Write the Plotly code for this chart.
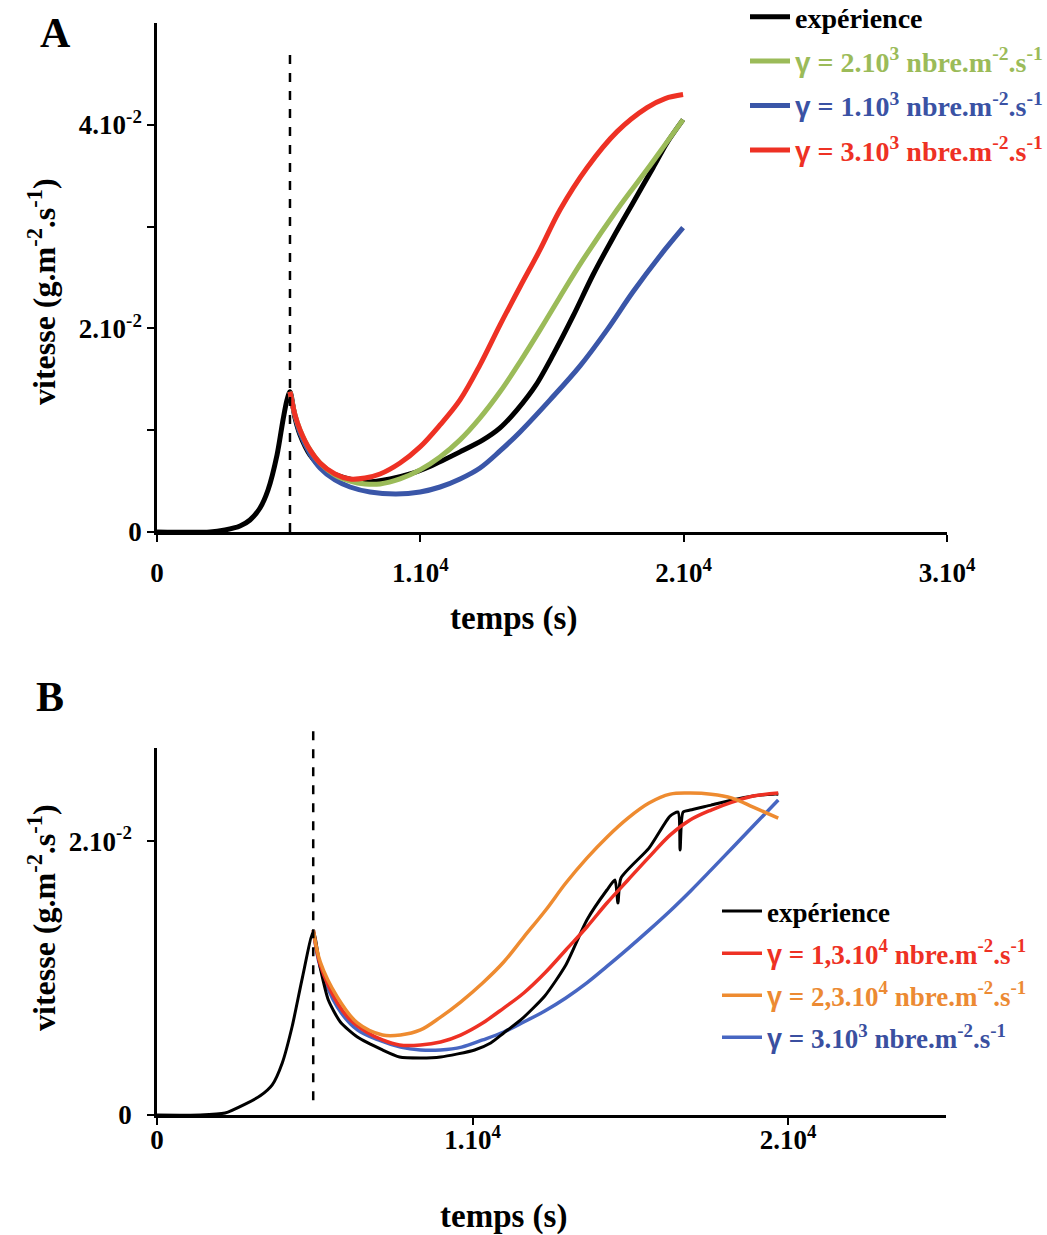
import plotly.graph_objects as go

W, H = 1047, 1235

# ---------------- Panel A data (vitesse in units of 1e-2 g.m-2.s-1) ----------------
A_exp_t = [0, 2013, 2583, 3152, 3532, 3912, 4216, 4558, 4785, 4937, 5051, 5241, 5431, 5811,
           6381, 7140, 7976, 8849, 9609, 10406, 11508, 12381, 13027, 13673, 14394, 15040,
           15799, 16559, 17319, 18078, 18838, 19370, 19977]
A_exp_v = [0, 0, 0.020, 0.059, 0.118, 0.236, 0.413, 0.757, 1.101, 1.298, 1.377, 1.121, 0.954,
           0.757, 0.610, 0.531, 0.492, 0.521, 0.570, 0.649, 0.787, 0.905, 1.023, 1.200, 1.445,
           1.740, 2.120, 2.527, 2.891, 3.235, 3.579, 3.825, 4.051]

A_g2_t = [5051, 5241, 5431, 5811, 6191, 6760, 7330, 7900, 8470, 9229, 9989, 10748, 11508,
          12267, 13027, 13787, 14546, 15306, 16179, 17471, 18610, 19294, 19977]
A_g2_v = [1.377, 1.150, 1.003, 0.806, 0.678, 0.560, 0.501, 0.472, 0.472, 0.521, 0.610, 0.737,
          0.905, 1.121, 1.377, 1.672, 1.986, 2.311, 2.675, 3.166, 3.560, 3.805, 4.051]

A_g1_t = [5051, 5241, 5431, 5811, 6191, 6760, 7330, 8090, 9077, 9989, 10748, 11508, 12267,
          13027, 13787, 14926, 16066, 17091, 18078, 19104, 19977]
A_g1_v = [1.377, 1.141, 0.973, 0.767, 0.629, 0.511, 0.442, 0.393, 0.374, 0.393, 0.442, 0.521,
          0.629, 0.796, 0.983, 1.298, 1.632, 1.986, 2.360, 2.714, 2.989]

A_g3_t = [5051, 5241, 5431, 5811, 6191, 6760, 7330, 7900, 8470, 9229, 9989, 10748, 11508,
          12267, 13027, 13787, 14546, 15306, 16331, 17471, 18610, 19294, 19977]
A_g3_v = [1.377, 1.150, 1.003, 0.806, 0.678, 0.570, 0.521, 0.531, 0.570, 0.678, 0.836, 1.052,
          1.298, 1.642, 2.035, 2.409, 2.773, 3.166, 3.579, 3.933, 4.169, 4.258, 4.297]

A_dash_t = 5050
A_dash_top = 4.77

A_xticks = [0, 10000, 20000, 30000]
A_xlabels = ["0", "1.10<sup>4</sup>", "2.10<sup>4</sup>", "3.10<sup>4</sup>"]
A_yticks = [0, 1, 2, 3, 4]
A_ylabels = ["0", "", "2.10<sup>-2</sup>", "", "4.10<sup>-2</sup>"]

# ---------------- Panel B data ----------------
B_exp_t = [0, 1365, 2159, 2794, 3270, 3651, 3969, 4286, 4604, 4953, 5175, 5429, 5810,
           6350, 7144, 7684, 8350, 8985, 10065, 10573, 10986, 11525, 12287, 12954, 13621,
           14256, 14510, 14605, 14700, 15589, 16256, 16510, 16574, 16669, 16891, 17558,
           18225, 18891, 19526, 19685]
B_exp_v = [0, 0, 0.015, 0.080, 0.140, 0.220, 0.380, 0.650, 1.000, 1.340, 1.073, 0.840,
           0.679, 0.569, 0.475, 0.423, 0.416, 0.423, 0.475, 0.526, 0.599, 0.694, 0.869, 1.095,
           1.424, 1.643, 1.716, 1.548, 1.730, 1.949, 2.183, 2.212, 1.935, 2.212, 2.227, 2.263,
           2.300, 2.329, 2.343, 2.343]

B_r_t = [4953, 5175, 5715, 6128, 6636, 7144, 7684, 8350, 8985, 9620, 10319, 10986, 11621,
         12319, 12954, 13621, 14256, 14923, 15589, 16256, 16891, 17558, 18225, 18891, 19685]
B_r_v = [1.351, 1.095, 0.818, 0.694, 0.606, 0.548, 0.511, 0.511, 0.533, 0.584, 0.672, 0.781,
         0.891, 1.044, 1.205, 1.373, 1.548, 1.716, 1.883, 2.044, 2.154, 2.227, 2.285, 2.329, 2.351]

B_o_t = [4953, 5175, 5715, 6350, 7144, 7715, 8350, 8985, 9620, 10319, 10986, 11621, 12319,
         12954, 13621, 14256, 14923, 15589, 16256, 16891, 17558, 18225, 18891, 19685]
B_o_v = [1.351, 1.117, 0.861, 0.672, 0.584, 0.584, 0.621, 0.715, 0.825, 0.964, 1.117, 1.299,
         1.497, 1.694, 1.876, 2.029, 2.168, 2.278, 2.343, 2.351, 2.343, 2.314, 2.248, 2.168]

B_b_t = [4953, 5175, 5715, 6350, 7017, 7715, 8350, 8985, 9652, 10319, 10986, 11621, 12287,
         12954, 13621, 14256, 14923, 15589, 16256, 16923, 17558, 18225, 18891, 19685]
B_b_v = [1.351, 1.080, 0.788, 0.621, 0.548, 0.496, 0.475, 0.475, 0.496, 0.548, 0.606, 0.679,
         0.760, 0.855, 0.965, 1.085, 1.215, 1.350, 1.490, 1.640, 1.790, 1.950, 2.110, 2.300]

B_dash_t = 4950

B_xticks = [0, 10000, 20000]
B_xlabels = ["0", "1.10<sup>4</sup>", "2.10<sup>4</sup>"]
B_yticks = [0, 2]
B_ylabels = ["0", "2.10<sup>-2</sup>"]

SERIF = "Liberation Serif"
GAM = "<span style='font-family:Liberation Sans'>γ</span>"


def lab(color, txt):
    return f"<span style='color:{color}'>{GAM} = {txt} nbre.m<sup>-2</sup>.s<sup>-1</sup></span>"


def spl(color, width, sm=1.0):
    return dict(color=color, width=width, shape="spline", smoothing=sm)


fig = go.Figure()

# Panel A traces (draw order: black, blue, green, red)
fig.add_trace(go.Scatter(x=A_exp_t, y=A_exp_v, mode="lines", name="expérience",
                         line=spl("#000000", 5, 0.8),
                         xaxis="x", yaxis="y", legend="legend", legendgroup="a0", legendrank=1))
fig.add_trace(go.Scatter(x=A_g1_t, y=A_g1_v, mode="lines", name=lab("#3A52A4", "1.10<sup>3</sup>"),
                         line=spl("#3A56A8", 5),
                         xaxis="x", yaxis="y", legend="legend", legendgroup="a2", legendrank=3))
fig.add_trace(go.Scatter(x=A_g2_t, y=A_g2_v, mode="lines", name=lab("#9BBB59", "2.10<sup>3</sup>"),
                         line=spl("#9BBB59", 5),
                         xaxis="x", yaxis="y", legend="legend", legendgroup="a1", legendrank=2))
fig.add_trace(go.Scatter(x=A_g3_t, y=A_g3_v, mode="lines", name=lab("#EE3124", "3.10<sup>3</sup>"),
                         line=spl("#EE3124", 5),
                         xaxis="x", yaxis="y", legend="legend", legendgroup="a3", legendrank=4))
fig.add_trace(go.Scatter(x=[A_dash_t, A_dash_t], y=[0, A_dash_top], mode="lines", showlegend=False,
                         line=dict(color="#000000", width=2.5, dash="dash"), xaxis="x", yaxis="y"))

# Panel B traces
fig.add_trace(go.Scatter(x=B_b_t, y=B_b_v, mode="lines", name=lab("#3A4FA0", "3.10<sup>3</sup>"),
                         line=spl("#4766C2", 3.5),
                         xaxis="x2", yaxis="y2", legend="legend2", legendgroup="b3", legendrank=4))
fig.add_trace(go.Scatter(x=B_exp_t, y=B_exp_v, mode="lines", name="expérience",
                         line=spl("#000000", 3, 0.6),
                         xaxis="x2", yaxis="y2", legend="legend2", legendgroup="b0", legendrank=1))
fig.add_trace(go.Scatter(x=B_r_t, y=B_r_v, mode="lines", name=lab("#EE3124", "1,3.10<sup>4</sup>"),
                         line=spl("#EE3124", 3.5),
                         xaxis="x2", yaxis="y2", legend="legend2", legendgroup="b1", legendrank=2))
fig.add_trace(go.Scatter(x=B_o_t, y=B_o_v, mode="lines", name=lab("#EC8A33", "2,3.10<sup>4</sup>"),
                         line=spl("#EE8B30", 3.5),
                         xaxis="x2", yaxis="y2", legend="legend2", legendgroup="b2", legendrank=3))

axis_common = dict(showline=True, linecolor="black", linewidth=2.5, ticks="outside", ticklen=7,
                   tickwidth=2, tickcolor="black", showgrid=False, zeroline=False,
                   tickfont=dict(family=SERIF, size=27, color="black", weight="bold"))

TXT = dict(xref="paper", yref="paper", showarrow=False, xanchor="center", yanchor="middle")

fig.update_layout(
    width=W, height=H, autosize=False,
    margin=dict(l=0, r=0, t=0, b=0, autoexpand=False),
    paper_bgcolor="white", plot_bgcolor="white",
    xaxis=dict(domain=[157 / W, 947 / W], range=[0, 30000], anchor="y",
               tickmode="array", tickvals=A_xticks, ticktext=A_xlabels, ticklabelstandoff=8,
               **axis_common),
    yaxis=dict(domain=[1 - 532 / H, 1 - 23 / H], range=[0, 5.0], anchor="x",
               tickmode="array", tickvals=A_yticks, ticktext=A_ylabels, ticklabelstandoff=0,
               **axis_common),
    xaxis2=dict(domain=[157 / W, 946 / W], range=[0, 25000], anchor="y2",
                tickmode="array", tickvals=B_xticks, ticktext=B_xlabels, ticklabelstandoff=-8,
                **axis_common),
    yaxis2=dict(domain=[1 - 1115 / H, 1 - 748 / H], range=[0, 2.68], anchor="x2",
                tickmode="array", tickvals=B_yticks, ticktext=B_ylabels, ticklabelstandoff=10,
                **axis_common),
    legend=dict(x=745 / W, y=1 + 8 / H, xanchor="left", yanchor="top", bgcolor="rgba(0,0,0,0)",
                font=dict(family=SERIF, size=28, color="black", weight="bold"),
                tracegroupgap=5, traceorder="grouped", itemwidth=40),
    legend2=dict(x=717 / W, y=1 - 887 / H, xanchor="left", yanchor="top", bgcolor="rgba(0,0,0,0)",
                 font=dict(family=SERIF, size=27, color="black", weight="bold"),
                 tracegroupgap=4, traceorder="grouped", itemwidth=40),
    shapes=[dict(type="line", xref="x2", yref="y2 domain", x0=B_dash_t, x1=B_dash_t,
                 y0=0.04, y1=1.05, line=dict(color="black", width=2.5, dash="dash"))],
    annotations=[
        dict(text="A", x=55 / W, y=1 - 33 / H,
             font=dict(family=SERIF, size=42, color="black", weight="bold"), **TXT),
        dict(text="B", x=50 / W, y=1 - 697 / H,
             font=dict(family=SERIF, size=42, color="black", weight="bold"), **TXT),
        dict(text="temps (s)", x=513 / W, y=1 - 618 / H,
             font=dict(family=SERIF, size=33, color="black", weight="bold"), **TXT),
        dict(text="temps (s)", x=503 / W, y=1 - 1216 / H,
             font=dict(family=SERIF, size=33, color="black", weight="bold"), **TXT),
        dict(text="vitesse (g.m<sup>-2</sup>.s<sup>-1</sup>)", x=42 / W, y=1 - 292 / H, textangle=-90,
             font=dict(family=SERIF, size=32, color="black", weight="bold"), **TXT),
        dict(text="vitesse (g.m<sup>-2</sup>.s<sup>-1</sup>)", x=42 / W, y=1 - 918 / H, textangle=-90,
             font=dict(family=SERIF, size=32, color="black", weight="bold"), **TXT),
    ],
)

fig.write_html("out.html", config={"displayModeBar": False},
               post_script="document.body.style.margin='0';document.body.style.overflow='hidden';")
